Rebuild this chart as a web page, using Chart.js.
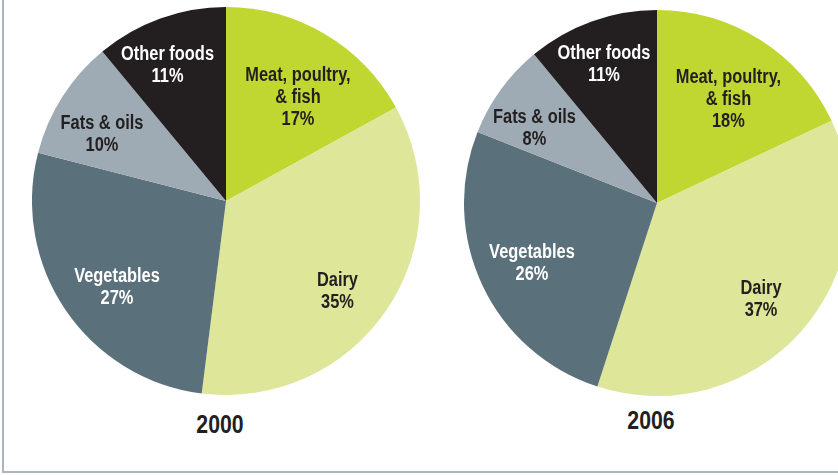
<!DOCTYPE html>
<html>
<head>
<meta charset="utf-8">
<script src="https://cdn.jsdelivr.net/npm/chart.js@4/dist/chart.umd.min.js"></script>
<style>
    html, body {
        margin: 0;
        padding: 0;
        background: #ffffff;
    }
    body {
        width: 838px;
        height: 475px;
        position: relative;
        overflow: hidden;
        font-family: "Liberation Sans", Arial, sans-serif;
    }
    .frame {
        position: absolute;
        left: 2px;
        top: 0;
        width: 840px;
        height: 471px;
        border-left: 2px solid #a9b6bd;
        border-bottom: 2px solid #a9b6bd;
    }
    .pie {
        position: absolute;
    }
    #pie2000 { left: 32px; top: 7px; width: 388px; height: 388px; }
    #pie2006 { left: 464px; top: 10px; width: 386px; height: 386px; }
    .year {
        position: absolute;
        width: 100px;
        text-align: center;
        font-weight: bold;
        font-size: 25px;
        line-height: 26px;
        color: #231f20;
        transform: scaleX(0.85);
    }
</style>
</head>
<body>
<div class="frame"></div>
<div class="pie" id="pie2000"><canvas id="chart2000"></canvas></div>
<div class="pie" id="pie2006"><canvas id="chart2006"></canvas></div>
<div class="year" style="left:170px; top:411px;">2000</div>
<div class="year" style="left:601px; top:407px;">2006</div>

<script>
    // Food groups, clockwise from 12 o'clock
    const categories = [
        ['Meat, poultry,', '& fish'],
        ['Dairy'],
        ['Vegetables'],
        ['Fats & oils'],
        ['Other foods']
    ];
    const shares2000 = [17, 35, 27, 10, 11];
    const shares2006 = [18, 37, 26, 8, 11];

    const sliceColors = ['#c0d631', '#dde699', '#5a717c', '#9eabb4', '#231f20'];
    const labelColors = ['#231f20', '#231f20', '#ffffff', '#231f20', '#ffffff'];

    // Writes the group name and share inside each slice (bold, squeezed to look condensed).
    // radius = fraction of the outer radius, turn = nudge off the slice's mid angle in degrees.
    const sliceLabels = {
        id: 'sliceLabels',
        afterDatasetsDraw(chart, args, opts) {
            const ctx = chart.ctx;
            const meta = chart.getDatasetMeta(0);
            const values = chart.data.datasets[0].data;
            const lh = 22;
            ctx.save();
            ctx.font = 'bold 20px "Liberation Sans", Arial, sans-serif';
            ctx.textAlign = 'center';
            ctx.textBaseline = 'alphabetic';
            meta.data.forEach((arc, i) => {
                const p = arc.getProps(['x', 'y', 'startAngle', 'endAngle', 'outerRadius'], true);
                const mid = (p.startAngle + p.endAngle) / 2 + opts.turn[i] * Math.PI / 180;
                const r = p.outerRadius * opts.radius[i];
                const cx = p.x + Math.cos(mid) * r;
                const cy = p.y + Math.sin(mid) * r;
                const lines = chart.data.labels[i].concat([values[i] + '%']);
                const top = cy - (lines.length - 1) * lh / 2;
                ctx.fillStyle = labelColors[i];
                lines.forEach((line, j) => {
                    ctx.save();
                    // baseline sits about half a cap height below the line centre
                    ctx.translate(cx, top + j * lh + 7);
                    ctx.scale(0.82, 1);
                    ctx.fillText(line, 0, 0);
                    ctx.restore();
                });
            });
            ctx.restore();
        }
    };

    function makePie(canvasId, shares, labelOpts) {
        return new Chart(document.getElementById(canvasId), {
            type: 'pie',
            data: {
                labels: categories,
                datasets: [{
                    data: shares,
                    backgroundColor: sliceColors,
                    borderWidth: 0
                }]
            },
            options: {
                responsive: true,
                maintainAspectRatio: false,
                animation: false,
                layout: { padding: 0 },
                plugins: {
                    legend: { display: false },
                    tooltip: { enabled: false },
                    sliceLabels: labelOpts
                }
            },
            plugins: [sliceLabels]
        });
    }

    makePie('chart2000', shares2000, {
        radius: [0.658, 0.735, 0.711, 0.730, 0.768],
        turn: [3.7, 4.4, -3.6, -3.5, -3.3]
    });
    makePie('chart2006', shares2006, {
        radius: [0.660, 0.730, 0.716, 0.747, 0.774],
        turn: [1.7, 1.0, 0, -4.2, -1.0]
    });
</script>
</body>
</html>
